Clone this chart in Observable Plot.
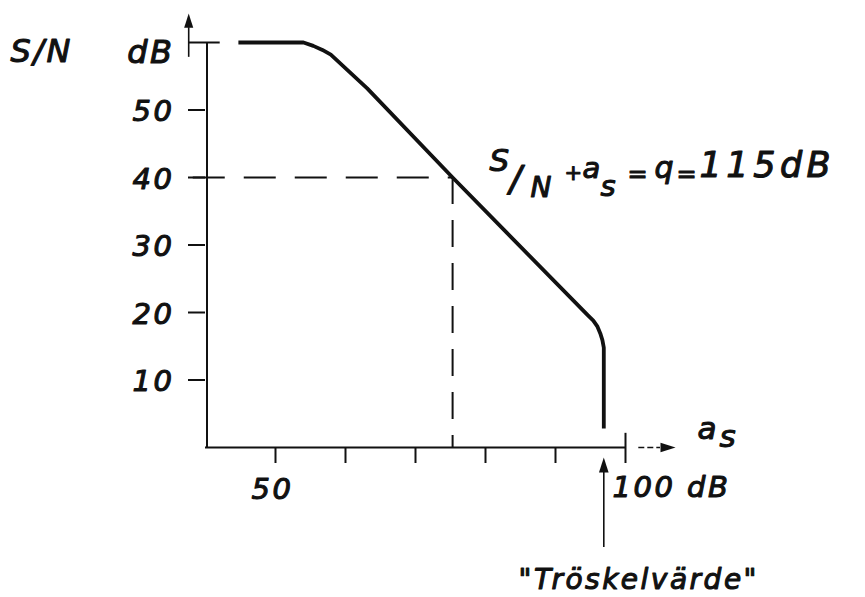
<!DOCTYPE html>
<html>
<head>
<meta charset="utf-8">
<script src="https://cdn.jsdelivr.net/npm/d3@7"></script>
<script src="https://cdn.jsdelivr.net/npm/@observablehq/plot@0.6"></script>
<style>
  html, body { margin: 0; padding: 0; background: #fff; }
  svg text { letter-spacing: 2.5px; }
</style>
</head>
<body>
<div id="chart"></div>
<script>
// ---- data ----
const q = 115;                 // S/N + a_s = q
const markedSN = 40;           // dashed guide level (S/N, dB)
const markedAs = 75.3;         // dashed guide position (a_s, dB)
const threshold = 96.9;        // "Tröskelvärde" (a_s, dB)
const curveAs = [44.7, 54.0, 55.4, 56.7, 57.9, 63.1, 75.3, 94.6, 95.4, 96.0, 96.4, 96.7, 96.9, 96.9];
const curveSN = [60, 60, 59.5, 58.9, 58.2, 53.2, 40.0, 19.6, 18.8, 17.9, 16.9, 15.9, 14.8, 2.8];
const xTicks = [50, 60, 70, 80, 90, 100];
const xTickLabels = ["50", "", "", "", "", "100 dB"];
const yTicks = [10, 20, 30, 40, 50, 60];
const yTickLabels = ["10", "20", "30", "40", "50", "dB"];
const yTitle = "S/N";
const xTitle = ["a", "s"];
const eqTokens = ["S", "/", "N", "+", "a", "s", "=", "q", "=", q + "dB"];
const thresholdLabel = '"Tröskelvärde"';

// ---- layout (pixel offsets, not data) ----
const eqLayout = [
  {dx: 37,  dy: -7, size: 31},
  {dx: 57,  dy: 13, size: 36},
  {dx: 78,  dy: 19, size: 28},
  {dx: 112, dy: 2,  size: 21},
  {dx: 130, dy: 0,  size: 29},
  {dx: 148, dy: 18, size: 29},
  {dx: 175, dy: 4,  size: 24},
  {dx: 202, dy: 0,  size: 30},
  {dx: 224, dy: 4,  size: 24},
  {dx: 247, dy: -1, size: 35}
];

const curve = curveAs.map((a, i) => ({as: a, sn: curveSN[i]}));
const xMin = 40, xMax = 100, yMin = 0, yMax = 60;

// solid arrow-head symbol (tip points up at rotate 0)
const arrowHead = {
  draw(ctx, size) {
    const s = Math.sqrt(size);
    ctx.moveTo(0, -s);
    ctx.lineTo(s * 0.32, 0);
    ctx.lineTo(-s * 0.32, 0);
    ctx.closePath();
  }
};

const font = {fontSize: 29, fill: "#111", stroke: "#111", strokeWidth: 1.1, lineAnchor: "bottom"};

const marks = [
  // axes lines
  Plot.ruleY([yMin], {stroke: "#111", strokeWidth: 2}),
  Plot.ruleX([xMin], {stroke: "#111", strokeWidth: 2, dx: 1.5}),
  Plot.axisX({ticks: xTicks, tickSize: 16, tickFormat: () => "", label: null, stroke: "#111", strokeWidth: 2}),
  Plot.axisY({ticks: yTicks, tickSize: 17, tickFormat: () => "", label: null, stroke: "#111", strokeWidth: 2}),
  // 60 tick crosses the axis; end tick at 100 crosses the axis
  Plot.ruleY([yMax], {x1: xMin, x2: xMin + 2.1, stroke: "#111", strokeWidth: 2}),
  Plot.ruleX([xMax], {y1: yMin, y2: yMin + 2.1, stroke: "#111", strokeWidth: 2}),
  // y arrow
  Plot.ruleX([xMin - 2.4], {y1: yMax + 2.2, y2: yMax - 2.2, stroke: "#111", strokeWidth: 1.6}),
  Plot.dot([0], {x: () => xMin - 2.4, y: () => yMax + 2.2, r: 8, symbol: arrowHead, fill: "#111", stroke: "none"}),
  // x arrow (dashed)
  Plot.ruleY([yMin], {x1: xMax + 1.9, x2: xMax + 5.0, stroke: "#111", strokeWidth: 1.6, strokeDasharray: "6,3"}),
  Plot.dot([0], {x: () => xMax + 5.0, y: () => yMin, r: 8.5, symbol: arrowHead, rotate: 90, fill: "#111", stroke: "none"}),
  // dashed guides
  Plot.ruleY([markedSN], {x1: xMin - 1.75, x2: markedAs, stroke: "#111", strokeWidth: 2, strokeDasharray: "32,19"}),
  Plot.ruleX([markedAs], {y1: markedSN, y2: yMin, stroke: "#111", strokeWidth: 2, strokeDasharray: "27,16"}),
  // curve
  Plot.line(curve, {x: "as", y: "sn", stroke: "#111", strokeWidth: 3.8, strokeLinejoin: "round", strokeLinecap: "butt"}),
  // threshold arrow
  Plot.ruleX([threshold], {y1: yMin - 14.8, y2: yMin - 3.6, stroke: "#111", strokeWidth: 1.6}),
  Plot.dot([0], {x: () => threshold, y: () => yMin - 3.7, r: 8.5, symbol: arrowHead, fill: "#111", stroke: "none"}),
  Plot.text([thresholdLabel], {x: () => threshold, y: () => yMin, dx: 35, dy: 141, text: d => d, textAnchor: "middle", ...font, fontSize: 28}),
  // y tick labels
  Plot.text(yTicks.filter(v => v < yMax), {x: () => xMin, y: d => d, text: (d) => yTickLabels[yTicks.indexOf(d)], dx: -31, dy: 11, textAnchor: "end", ...font}),
  Plot.text([yTickLabels[yTicks.indexOf(yMax)]], {x: () => xMin, y: () => yMax, text: d => d, dx: -31, dy: 20, textAnchor: "end", ...font, fontSize: 32}),
  Plot.text([yTitle], {x: () => xMin, y: () => yMax, text: d => d, dx: -195, dy: 19, textAnchor: "start", ...font, fontSize: 32}),
  // x tick labels
  Plot.text(xTicks.filter((v, i) => xTickLabels[i] === "50"), {x: d => d, y: () => yMin, text: (d) => xTickLabels[xTicks.indexOf(d)], dx: -3, dy: 51, textAnchor: "middle", ...font}),
  Plot.text(xTicks.filter((v, i) => xTickLabels[i] === "100 dB"), {x: d => d, y: () => yMin, text: (d) => xTickLabels[xTicks.indexOf(d)], dx: -13, dy: 49, textAnchor: "start", ...font}),
  // x title a_s
  Plot.text([xTitle[0]], {x: () => xMax, y: () => yMin, text: d => d, dx: 72, dy: -9, textAnchor: "start", ...font, fontSize: 31}),
  Plot.text([xTitle[1]], {x: () => xMax, y: () => yMin, text: d => d, dx: 94, dy: -1, textAnchor: "start", ...font, fontSize: 31}),
  // equation label
  ...eqTokens.map((t, i) => Plot.text([t], {x: () => markedAs, y: () => markedSN, text: d => d, dx: eqLayout[i].dx, dy: eqLayout[i].dy, textAnchor: "start", ...font, fontSize: eqLayout[i].size}))
];

const chart = Plot.plot({
  width: 865,
  height: 597,
  marginLeft: 205,
  marginRight: 240,
  marginTop: 42,
  marginBottom: 150,
  x: {domain: [xMin, xMax]},
  y: {domain: [yMin, yMax]},
  style: {fontFamily: "'DejaVu Sans', sans-serif", fontStyle: "oblique", background: "#fff", color: "#111", overflow: "visible"},
  marks
});
// single glyph tokens: no trailing letter spacing; the q value is set a little wider
d3.select(chart).selectAll("text").each(function() {
  const t = this.textContent;
  if (t.length === 1) this.style.letterSpacing = "0px";
  if (t === q + "dB") this.style.letterSpacing = "4.5px";
});
document.getElementById("chart").appendChild(chart);
</script>
</body>
</html>
